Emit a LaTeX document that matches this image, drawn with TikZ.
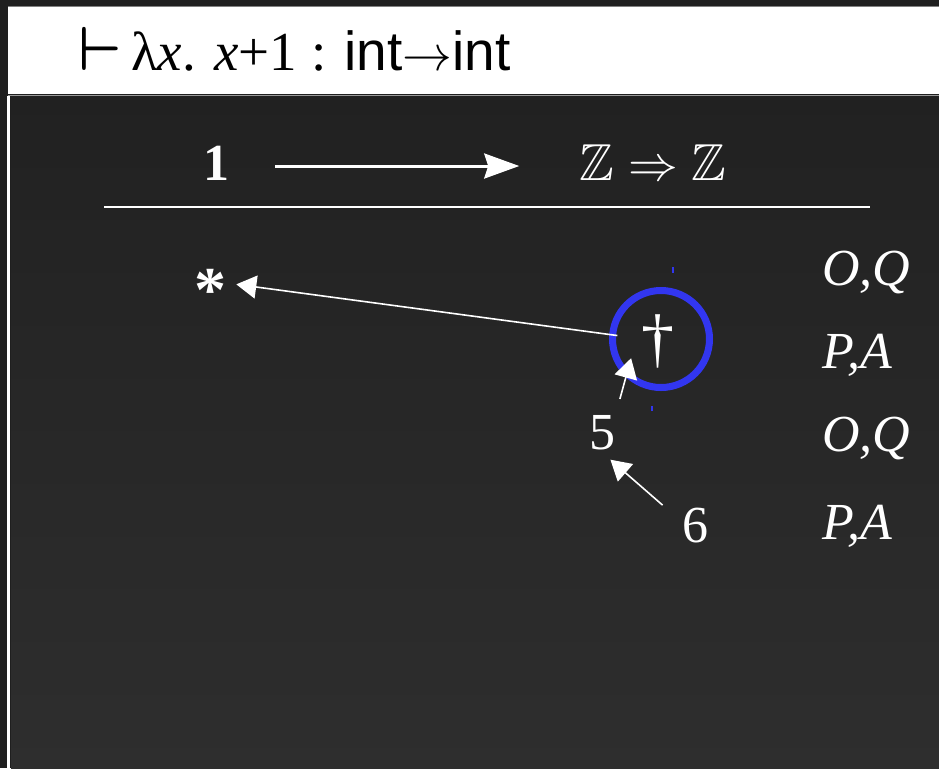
\documentclass[tikz,border=0pt]{standalone}
\usepackage{amssymb}
\usepackage{fontspec}
\setmainfont{Liberation Serif}
\newfontfamily\intfont{Liberation Sans}
\usetikzlibrary{arrows.meta}
\definecolor{slidebg}{HTML}{1F1F1F}
\definecolor{ringblue}{HTML}{3236F0}
\tikzset{
  lbl/.style={text=white, inner sep=0pt, font=\fontsize{26}{30}\selectfont},
  move/.style={white, line width=0.8pt, -{Triangle[length=10pt, width=11.5pt]}},
}
\begin{document}
\begin{tikzpicture}[x=0.5pt, y=-0.5pt]
  % slide frame
  \fill[slidebg] (0,0) rectangle (939,768);
  \useasboundingbox (0,0) rectangle (939,768);
  \shade[top color=black!87, bottom color=black!82] (11,96) rectangle (939,768);
  \fill[white] (7,96) rectangle (10,768);
  \fill[white] (8,7) rectangle (939,94);
  \draw[black!50, line width=0.6pt] (8,6.5) -- (939,6.5);
  \draw[black!40, line width=0.8pt] (8,95.5) -- (939,95.5);
  \node[lbl, text=black, anchor=base west, font=\fontsize{27.5}{32}\selectfont] (judgement) at (78,70) {\scalebox{1.25}{\boldmath$\vdash$}\,λ\textit{x}. \textit{x}+1 : {\intfont int}$\rightarrow${\intfont int}};
  % the arena
  \node[lbl, font=\fontsize{26}{30}\selectfont\bfseries] (unit) at (216,163) {1};
  \node[lbl] (fun) at (653,163) {$\mathbb{Z}\Rightarrow\mathbb{Z}$};
  \draw[white, line width=1.5pt, -{Stealth[length=17.5pt, width=12.5pt, inset=2pt]}, shorten <=23pt, shorten >=30pt] ([yshift=-1.5pt]unit.east) -- ([yshift=-1.5pt]fun.west);
  \draw[white, line width=1pt] (104,207) -- (870,207);
  % the play
  \node[lbl, font=\fontsize{32}{36}\selectfont\bfseries] (init) at (210,290) {*};
  \node[lbl, font=\fontsize{33}{36}\selectfont] (dagger) at (658,341) {†};
  \node[circle, draw=ringblue, line width=3.5pt, minimum size=48.5pt, inner sep=0pt] (ring) at (661,339) {};
  \node[lbl] (five) at (602,433) {5};
  \node[lbl] (six) at (695,526) {6};
  \draw[move, shorten <=12pt, shorten >=5pt] (dagger) -- ([yshift=3.5pt]init.east);
  \draw[move, shorten <=8.5pt] (five.north east) -- ([xshift=-5pt, yshift=5pt]dagger.south west);
  \draw[move] ([shift={(-9.5pt,1.5pt)}]six.north west) -- ([shift={(-2.5pt,-4.5pt)}]five.south east);
  \draw[ringblue, line width=0.6pt] (673,267) -- (673,273) (652,406) -- (652,411);
  % polarities
  \foreach \pol/\y [count=\i] in {{O,Q}/272, {P,A}/355, {O,Q}/438, {P,A}/526}
    \node[lbl, anchor=west] (pol\i) at (822,\y) {\textit{\pol}};
\end{tikzpicture}
\end{document}
